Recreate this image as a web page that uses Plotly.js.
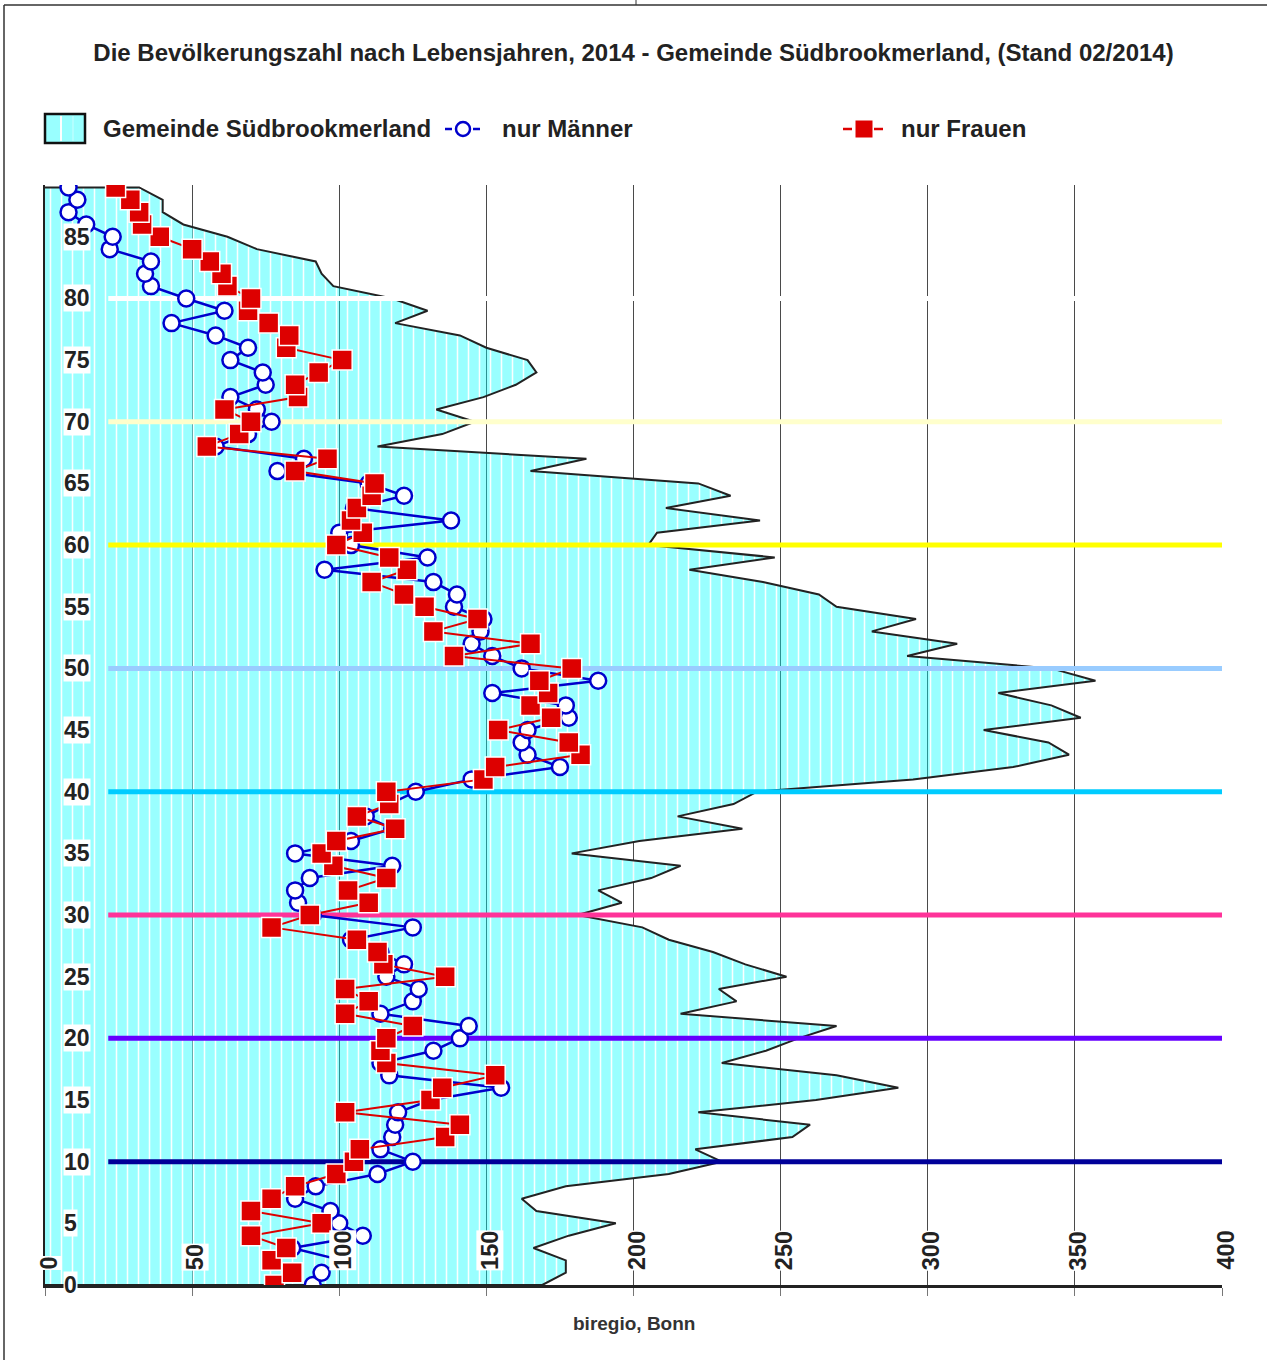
<!DOCTYPE html>
<html>
<head>
<meta charset="utf-8">
<script src="https://cdn.plot.ly/plotly-3.0.1.min.js"></script>
<style>
  html, body { margin: 0; padding: 0; background: #ffffff; }
  #chart { width: 1267px; height: 1360px; }
</style>
</head>
<body>
<div id="chart"></div>
<script>
// ---------------- DATA ----------------
const ages = [0,1,2,3,4,5,6,7,8,9,10,11,12,13,14,15,16,17,18,19,20,21,22,23,24,25,26,27,28,29,
  30,31,32,33,34,35,36,37,38,39,40,41,42,43,44,45,46,47,48,49,50,51,52,53,54,55,56,57,58,59,
  60,61,62,63,64,65,66,67,68,69,70,71,72,73,74,75,76,77,78,79,80,81,82,83,84,85,86,87,88,89];

// Gemeinde Südbrookmerland (total)
const total = [169,177,177,166,178,194,167,162,177,212,230,221,254,260,222,262,290,269,230,245,
  256,269,216,235,229,252,238,227,212,203,181,196,188,206,216,179,202,237,215,234,
  242,295,329,348,341,319,352,342,324,357,342,293,310,281,296,269,263,244,219,248,
  205,208,243,211,233,222,165,184,113,135,146,133,149,160,167,164,150,141,119,130,
  118,98,94,92,72,62,47,40,40,32];

// nur Männer
const men = [91,94,101,84,108,100,97,85,92,113,125,114,118,119,120,131,155,117,114,132,
  141,144,114,125,127,116,122,114,104,125,91,86,85,90,118,85,104,118,109,117,
  126,145,175,164,162,164,178,177,152,188,162,152,145,148,149,139,140,132,95,130,
  104,100,138,105,122,110,79,88,58,69,77,72,63,75,74,63,69,58,43,61,
  48,36,34,36,22,23,14,8,11,8];

// nur Frauen
const women = [78,84,77,82,70,94,70,77,85,99,105,107,136,141,102,131,135,153,116,114,
  116,125,102,110,102,136,115,113,106,77,90,110,103,116,98,94,99,119,106,117,
  116,149,153,182,178,154,172,165,171,168,179,139,165,132,147,129,122,111,123,117,
  99,108,104,106,111,112,85,96,55,66,70,61,86,85,93,101,82,83,76,69,
  70,62,60,56,50,39,33,32,29,24];

const xTicks = [0,50,100,150,200,250,300,350,400];
const yTicks = [0,5,10,15,20,25,30,35,40,45,50,55,60,65,70,75,80,85];
const decadeAges = [10,20,30,40,50,60,70,80];
const decadeColors = ['#000099','#6600ff','#ff3399','#00ccff','#99ccff','#ffff00','#ffffcc','#ffffff'];
const legendLabels = ['Gemeinde Südbrookmerland','nur Männer','nur Frauen'];
const titleText = 'Die Bevölkerungszahl nach Lebensjahren, 2014 - Gemeinde Südbrookmerland, (Stand 02/2014)';
const sourceText = 'biregio, Bonn';

// ---------------- STYLE ----------------
const FONT = '"Liberation Sans", Arial, Helvetica, sans-serif';
const TXT = '#222222';
const BLUE = '#0000cc';
const RED = '#dd0000';
const PLOT_L = 45, PLOT_R = 1222, PLOT_T = 185, PLOT_B = 1285;
const px2x = p => (p - PLOT_L) / (PLOT_R - PLOT_L);
const py2y = p => (PLOT_B - p) / (PLOT_B - PLOT_T);

// closed polygon along the y-axis for the total area
const areaX = [0].concat(total, [0]);
const areaY = [ages[0]].concat(ages, [ages[ages.length - 1]]);

const traces = [];
traces.push({
  x: areaX, y: areaY, type: 'scatter', mode: 'lines', fill: 'toself',
  fillcolor: 'rgba(0,255,255,0.4)',
  fillpattern: { shape: '|', size: 11, solidity: 0.14, fgcolor: 'rgba(255,255,255,0.95)', bgcolor: 'rgba(0,255,255,0.4)' },
  line: { color: '#222222', width: 2 },
  name: legendLabels[0], showlegend: false, hoverinfo: 'skip'
});

decadeAges.forEach((a, i) => {
  traces.push({
    x: [21.5, 400], y: [a, a], type: 'scatter', mode: 'lines',
    line: { color: decadeColors[i], width: 5 },
    showlegend: false, hoverinfo: 'skip'
  });
});

traces.push({
  x: men, y: ages, type: 'scatter', mode: 'lines+markers', name: legendLabels[1],
  line: { color: BLUE, width: 2.5 },
  marker: { symbol: 'circle', size: 16, color: '#ffffff', line: { color: BLUE, width: 2.5 } },
  showlegend: false
});
traces.push({
  x: women, y: ages, type: 'scatter', mode: 'lines+markers', name: legendLabels[2],
  line: { color: RED, width: 2 },
  marker: { symbol: 'square', size: 20, color: RED, line: { color: '#ffffff', width: 1.5 } },
  showlegend: false
});

// ---------------- ANNOTATIONS ----------------
const annotations = [];
yTicks.forEach(v => {
  annotations.push({
    x: 6, y: v, xref: 'x', yref: 'y', text: '<b>' + v + '</b>', showarrow: false,
    xanchor: 'left', yanchor: 'middle', bgcolor: '#ffffff', borderpad: 0,
    font: { family: FONT, size: 23, color: TXT }
  });
});
xTicks.forEach(v => {
  annotations.push({
    x: v, y: 0, xref: 'x', yref: 'y', text: '<b>' + v + '</b>', showarrow: false,
    textangle: -90, xanchor: 'center', yanchor: 'bottom', yshift: 14, xshift: 3,
    bgcolor: '#ffffff', borderpad: 0,
    font: { family: FONT, size: 23.5, color: TXT }
  });
});
// legend texts
[[101, legendLabels[0]], [500, legendLabels[1]], [899, legendLabels[2]]].forEach(([p, t]) => {
  annotations.push({
    x: px2x(p), y: py2y(129), xref: 'paper', yref: 'paper', text: '<b>' + t + '</b>',
    showarrow: false, xanchor: 'left', yanchor: 'middle',
    font: { family: FONT, size: 24, color: TXT }
  });
});
// source
annotations.push({
  x: 0.5, y: py2y(1323), xref: 'paper', yref: 'paper', text: '<b>' + sourceText + '</b>',
  showarrow: false, xanchor: 'center', yanchor: 'middle',
  font: { family: FONT, size: 19, color: '#333333' }
});

// ---------------- SHAPES (legend symbols, frame) ----------------
const shapes = [];
const pline = (x0, y0, x1, y1, color, width) => ({
  type: 'line', xref: 'paper', yref: 'paper', x0: px2x(x0), y0: py2y(y0), x1: px2x(x1), y1: py2y(y1),
  line: { color: color, width: width }
});
// frame
shapes.push(pline(4, 5, 1267, 5, '#333333', 1.5));
shapes.push(pline(4, 5, 4, 1360, '#333333', 1.5));
shapes.push(pline(636, 0, 636, 5, '#333333', 1));
// legend: area box
shapes.push({ type: 'rect', xref: 'paper', yref: 'paper', x0: px2x(45), x1: px2x(85), y0: py2y(143), y1: py2y(114),
  fillcolor: '#99ffff', line: { color: '#111111', width: 2.5 } });
shapes.push(pline(61, 116, 61, 141, '#ffffff', 2));
shapes.push(pline(73, 116, 73, 141, '#ccffff', 1));
// legend: men
shapes.push(pline(445, 129, 452, 129, BLUE, 2.5));
shapes.push(pline(473, 129, 480, 129, BLUE, 2.5));
shapes.push({ type: 'circle', xref: 'paper', yref: 'paper', xsizemode: 'pixel', ysizemode: 'pixel',
  xanchor: px2x(463), yanchor: py2y(129), x0: -7, x1: 7, y0: -7, y1: 7,
  fillcolor: '#ffffff', line: { color: BLUE, width: 2.5 } });
// legend: women
shapes.push(pline(843, 129, 852, 129, RED, 2.5));
shapes.push(pline(874, 129, 883, 129, RED, 2.5));
shapes.push({ type: 'rect', xref: 'paper', yref: 'paper', xsizemode: 'pixel', ysizemode: 'pixel',
  xanchor: px2x(864), yanchor: py2y(129), x0: -9, x1: 9, y0: -9, y1: 9,
  fillcolor: RED, line: { color: '#ffffff', width: 1 } });

// ---------------- LAYOUT ----------------
const layout = {
  width: 1267, height: 1360,
  margin: { l: PLOT_L, r: 1267 - PLOT_R, t: PLOT_T, b: 1360 - PLOT_B, pad: 0 },
  paper_bgcolor: '#ffffff', plot_bgcolor: '#ffffff',
  font: { family: FONT, color: TXT },
  title: {
    text: '<b>' + titleText + '</b>', x: 0.5, xref: 'paper', xanchor: 'center',
    y: 1 - 53 / 1360, yref: 'container', yanchor: 'middle',
    font: { family: FONT, size: 24, color: TXT }
  },
  showlegend: false,
  xaxis: {
    range: [0, 400], tickvals: xTicks, showticklabels: false,
    showgrid: true, gridcolor: '#4a4a4a', gridwidth: 1,
    ticks: 'outside', ticklen: 8, tickcolor: '#777777', tickwidth: 1,
    showline: true, linecolor: '#222222', linewidth: 2.5, zeroline: false, fixedrange: true
  },
  yaxis: {
    range: [0, 89.2], showgrid: false, showticklabels: false, ticks: '',
    showline: true, linecolor: '#222222', linewidth: 2.5, zeroline: false, fixedrange: true
  },
  annotations: annotations,
  shapes: shapes
};

Plotly.newPlot('chart', traces, layout, { displayModeBar: false, staticPlot: true });
</script>
</body>
</html>
